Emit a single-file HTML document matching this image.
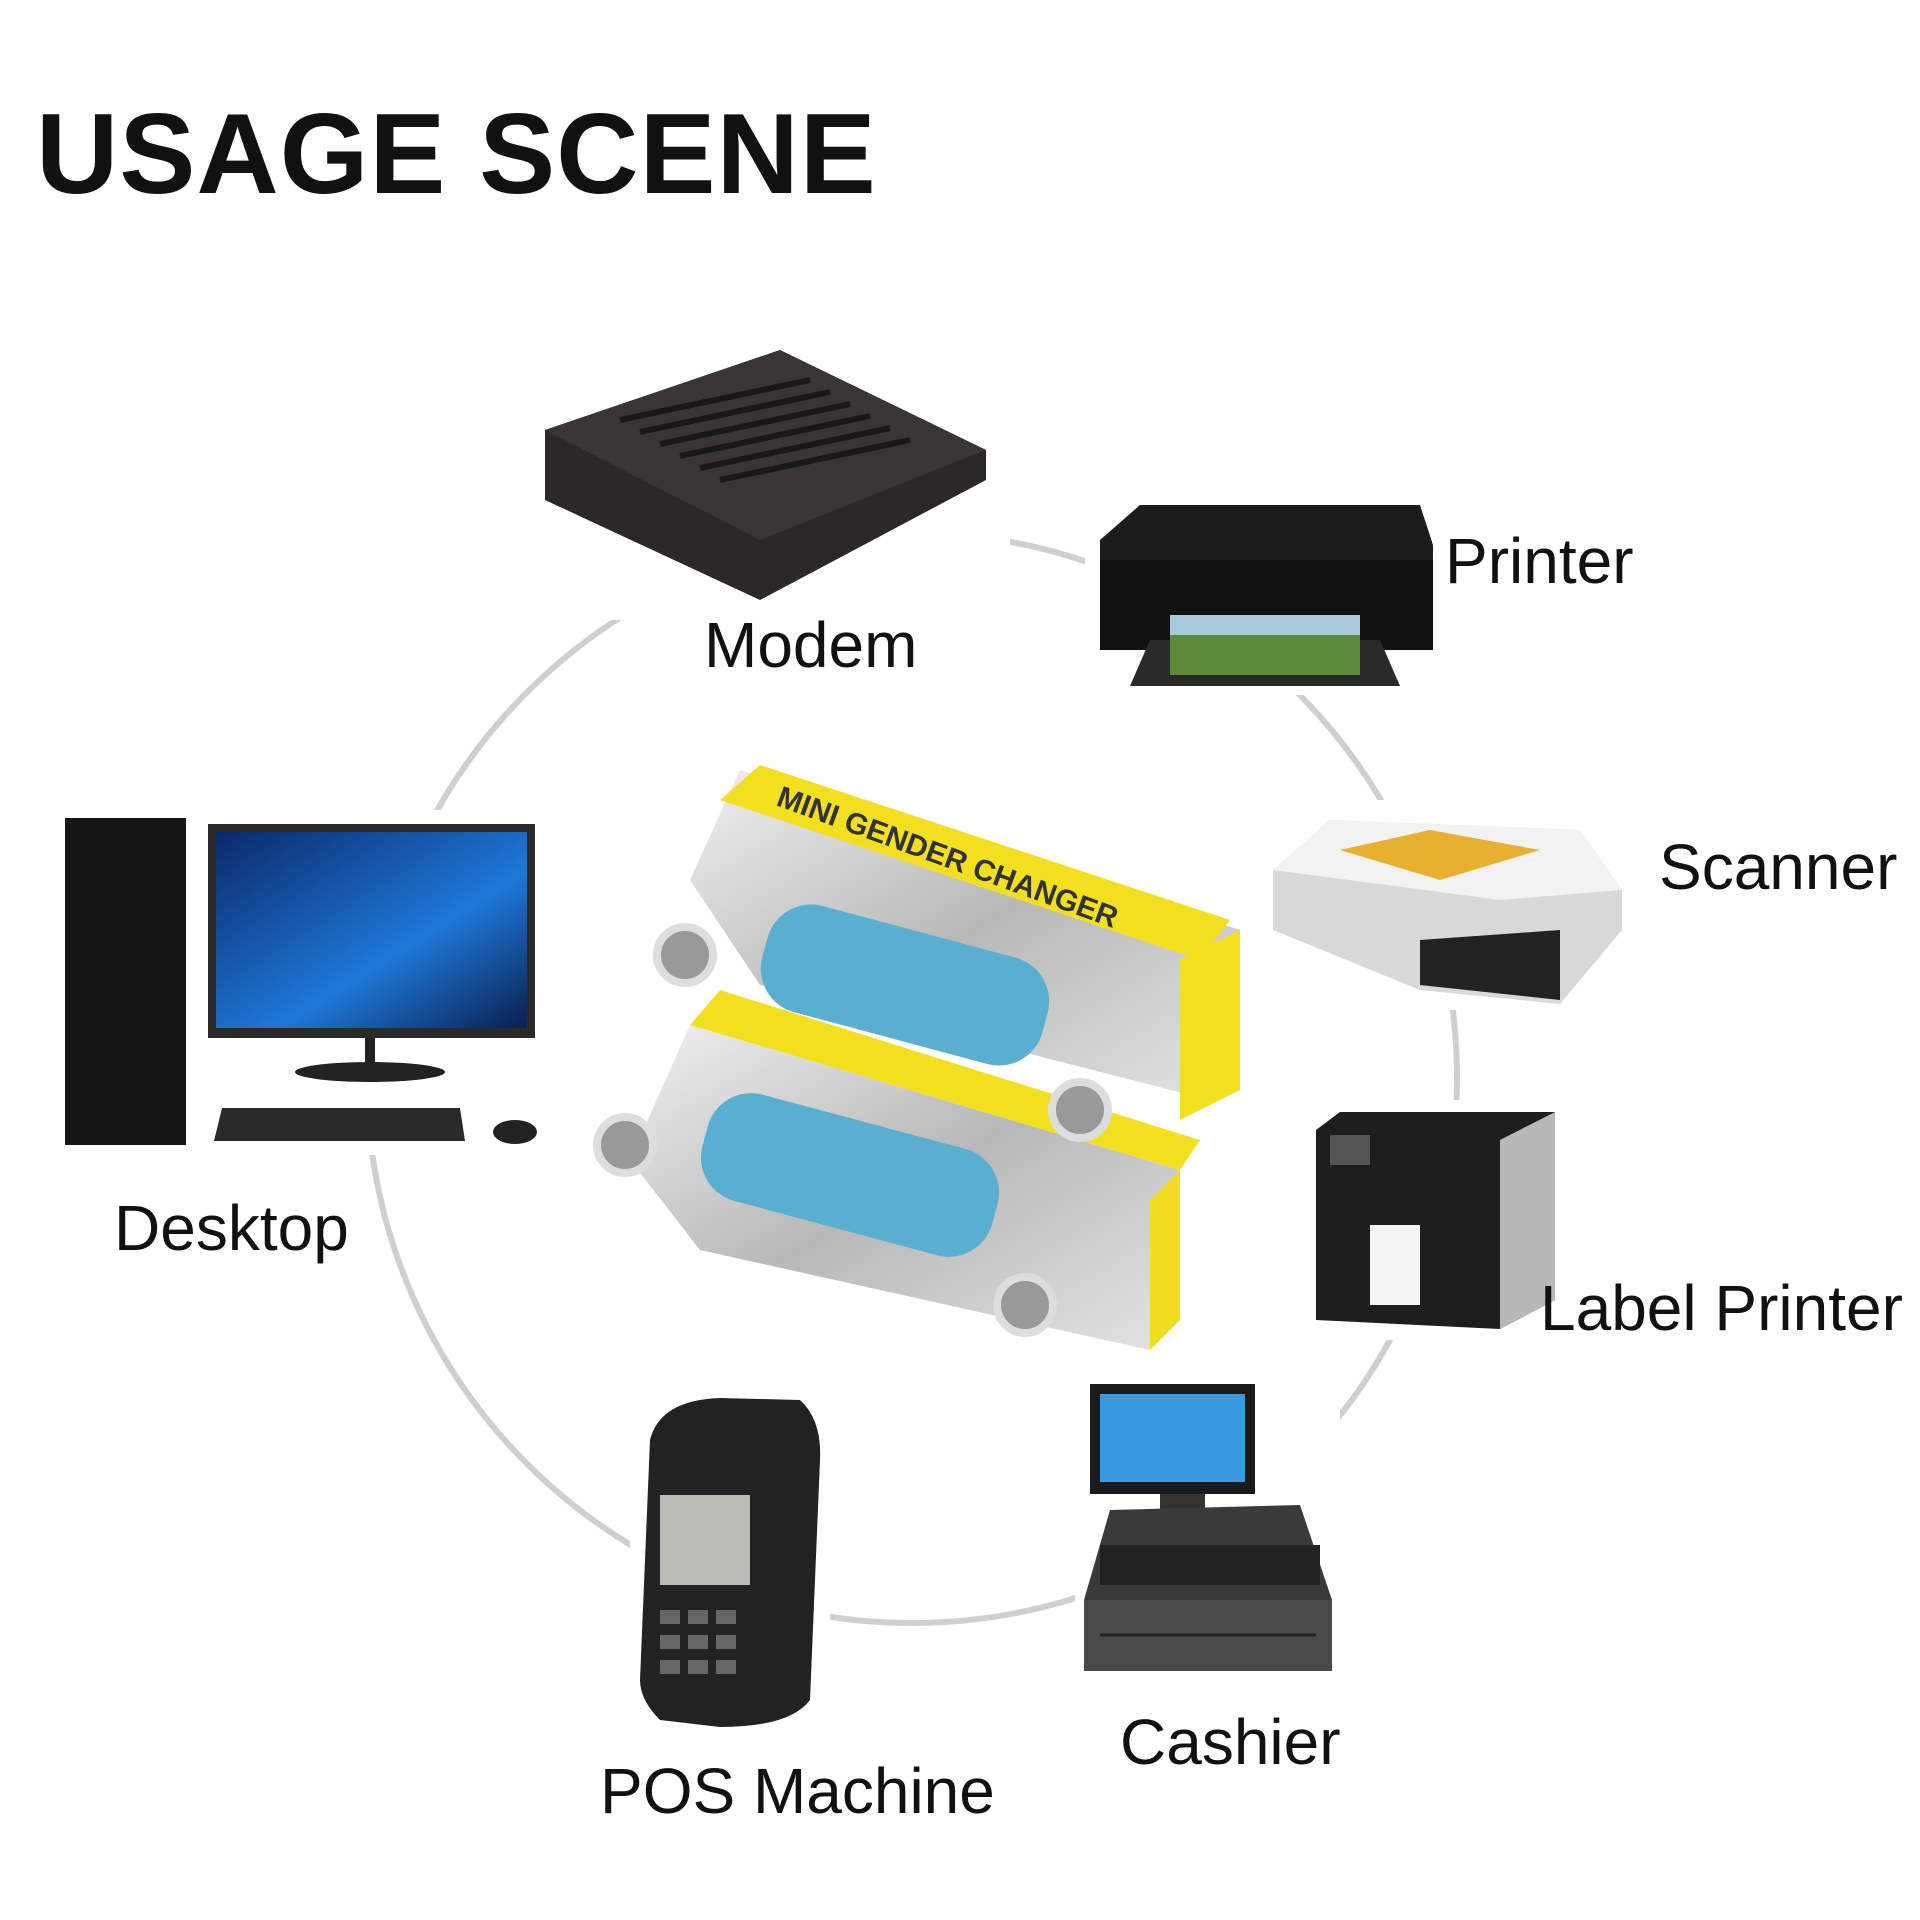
<!DOCTYPE html>
<html><head><meta charset="utf-8"><style>
html,body{margin:0;padding:0;background:#fff;}
body{width:1920px;height:1920px;overflow:hidden;position:relative;font-family:"Liberation Sans","DejaVu Sans",sans-serif;}
.t{position:absolute;color:#111;white-space:nowrap;line-height:1;font-size:64px;}
svg{position:absolute;left:0;top:0;}
</style></head><body>
<svg width="1920" height="1920" viewBox="0 0 1920 1920">
<defs>
<linearGradient id="silver" x1="0" y1="0" x2="1" y2="1"><stop offset="0" stop-color="#f0f0f0"/><stop offset=".5" stop-color="#b8b8b8"/><stop offset="1" stop-color="#e4e4e4"/></linearGradient>
<linearGradient id="scr" x1="0" y1="0" x2="1" y2="1"><stop offset="0" stop-color="#0a2a6a"/><stop offset=".6" stop-color="#1e78d8"/><stop offset="1" stop-color="#0a2050"/></linearGradient>
</defs>
<circle cx="912" cy="1078" r="545" fill="none" stroke="#cfcfcf" stroke-width="6"/>
<g>
<rect x="520" y="330" width="490" height="290" fill="#fff"/>
<polygon points="545,430 780,350 986,450 986,480 760,600 545,500" fill="#2c2729"/>
<polygon points="545,430 780,350 986,450 760,540" fill="#3a3436"/>
<g stroke="#1a1718" stroke-width="6">
<line x1="620" y1="420" x2="810" y2="380"/><line x1="640" y1="432" x2="830" y2="392"/><line x1="660" y1="444" x2="850" y2="404"/><line x1="680" y1="456" x2="870" y2="416"/><line x1="700" y1="468" x2="890" y2="428"/><line x1="720" y1="480" x2="910" y2="440"/>
</g>
</g>
<g>
<rect x="1085" y="495" width="360" height="200" fill="#fff"/>
<path d="M1100 540 L1140 505 L1420 505 L1433 545 L1433 650 L1100 650 Z" fill="#1c1c1c"/>
<rect x="1100" y="560" width="333" height="90" fill="#111"/>
<polygon points="1150,640 1380,640 1400,686 1130,686" fill="#2a2a2a"/>
<rect x="1170" y="615" width="190" height="60" fill="#5a8a3a"/>
<rect x="1170" y="615" width="190" height="20" fill="#a8c8e0"/>
</g>
<g>
<rect x="1265" y="800" width="365" height="210" fill="#fff"/>
<polygon points="1273,870 1330,820 1580,830 1622,890 1622,930 1560,1004 1420,990 1273,930" fill="#d8d8d8"/>
<polygon points="1273,870 1330,820 1580,830 1622,890 1500,900" fill="#f2f2f2"/>
<polygon points="1340,850 1430,830 1540,850 1440,880" fill="#e8b030"/>
<polygon points="1420,940 1560,930 1560,1000 1420,985" fill="#222"/>
</g>
<g>
<rect x="1305" y="1100" width="260" height="240" fill="#fff"/>
<polygon points="1316,1130 1340,1112 1555,1112 1555,1300 1500,1329 1316,1320" fill="#1e1e1e"/>
<polygon points="1500,1140 1555,1112 1555,1300 1500,1329" fill="#b8b8b8"/>
<rect x="1370" y="1225" width="50" height="80" fill="#f4f4f4"/>
<rect x="1330" y="1135" width="40" height="30" fill="#555"/>
</g>
<g>
<rect x="1075" y="1375" width="265" height="305" fill="#fff"/>
<rect x="1090" y="1384" width="165" height="110" fill="#1a1a1a"/>
<rect x="1100" y="1394" width="145" height="88" fill="#3a9ae0"/>
<rect x="1160" y="1494" width="45" height="20" fill="#333"/>
<polygon points="1110,1510 1300,1505 1332,1600 1084,1600" fill="#3a3a3a"/>
<rect x="1100" y="1545" width="220" height="40" fill="#222"/>
<rect x="1084" y="1600" width="248" height="71" fill="#4a4a4a"/>
<line x1="1100" y1="1635" x2="1316" y2="1635" stroke="#222" stroke-width="3"/>
</g>
<g>
<rect x="630" y="1390" width="200" height="345" fill="#fff"/>
<path d="M650 1440 Q660 1400 720 1398 L800 1400 Q822 1420 820 1460 L810 1700 Q790 1727 720 1727 L660 1720 Q640 1700 640 1680 Z" fill="#222"/>
<rect x="660" y="1495" width="90" height="90" fill="#b8bcb4"/>
<g fill="#666"><rect x="660" y="1610" width="20" height="14"/><rect x="688" y="1610" width="20" height="14"/><rect x="716" y="1610" width="20" height="14"/><rect x="660" y="1635" width="20" height="14"/><rect x="688" y="1635" width="20" height="14"/><rect x="716" y="1635" width="20" height="14"/><rect x="660" y="1660" width="20" height="14"/><rect x="688" y="1660" width="20" height="14"/><rect x="716" y="1660" width="20" height="14"/></g>
</g>
<g>
<rect x="55" y="810" width="490" height="345" fill="#fff"/>
<rect x="65" y="818" width="121" height="327" fill="#161616"/>
<rect x="208" y="824" width="327" height="214" fill="#2a2a2a"/>
<rect x="216" y="832" width="311" height="196" fill="url(#scr)"/>
<rect x="365" y="1038" width="10" height="30" fill="#222"/>
<ellipse cx="370" cy="1072" rx="75" ry="10" fill="#222"/>
<polygon points="222,1108 460,1108 465,1141 214,1141" fill="#2a2a2a"/>
<ellipse cx="515" cy="1132" rx="22" ry="12" fill="#222"/>
</g>
<g>
<rect x="580" y="760" width="680" height="605" fill="#fff"/>
<g transform="translate(0,120)">
<polygon points="630,1040 690,905 1180,1050 1150,1230 700,1130" fill="url(#silver)"/>
<polygon points="1150,1080 1180,1050 1180,1200 1150,1230" fill="#f0dc20"/>
<polygon points="690,905 720,870 1200,1020 1180,1050" fill="#f2e020"/>
<rect x="700" y="1000" width="300" height="110" rx="45" fill="#5aaed0" transform="rotate(15 850 1055)"/>
<circle cx="625" cy="1025" r="28" fill="#999" stroke="#ddd" stroke-width="8"/>
<circle cx="1025" cy="1185" r="28" fill="#999" stroke="#ddd" stroke-width="8"/>
</g>
<polygon points="690,880 740,770 1240,930 1210,1100 760,985" fill="url(#silver)"/>
<polygon points="1180,960 1240,930 1240,1090 1180,1120" fill="#f2e020"/>
<polygon points="720,800 760,765 1230,920 1200,960" fill="#f2e020"/>
<rect x="760" y="930" width="290" height="110" rx="45" fill="#5aaed0" transform="rotate(15 905 985)"/>
<circle cx="685" cy="955" r="28" fill="#999" stroke="#ddd" stroke-width="8"/>
<circle cx="1080" cy="1110" r="28" fill="#999" stroke="#ddd" stroke-width="8"/>
<text x="775" y="805" font-family="Liberation Sans" font-weight="bold" font-size="30" fill="#333" transform="rotate(20 775 805)">MINI GENDER CHANGER</text>
</g>
</svg>
<div class="t" style="left:36px;top:98px;font-size:114px;font-weight:bold;letter-spacing:1px;">USAGE SCENE</div>
<div class="t" style="left:704px;top:613px;">Modem</div>
<div class="t" style="left:1445px;top:529px;">Printer</div>
<div class="t" style="left:1659px;top:835px;">Scanner</div>
<div class="t" style="left:1540px;top:1276px;">Label Printer</div>
<div class="t" style="left:114px;top:1196px;">Desktop</div>
<div class="t" style="left:600px;top:1759px;">POS Machine</div>
<div class="t" style="left:1120px;top:1710px;">Cashier</div>
</body></html>
